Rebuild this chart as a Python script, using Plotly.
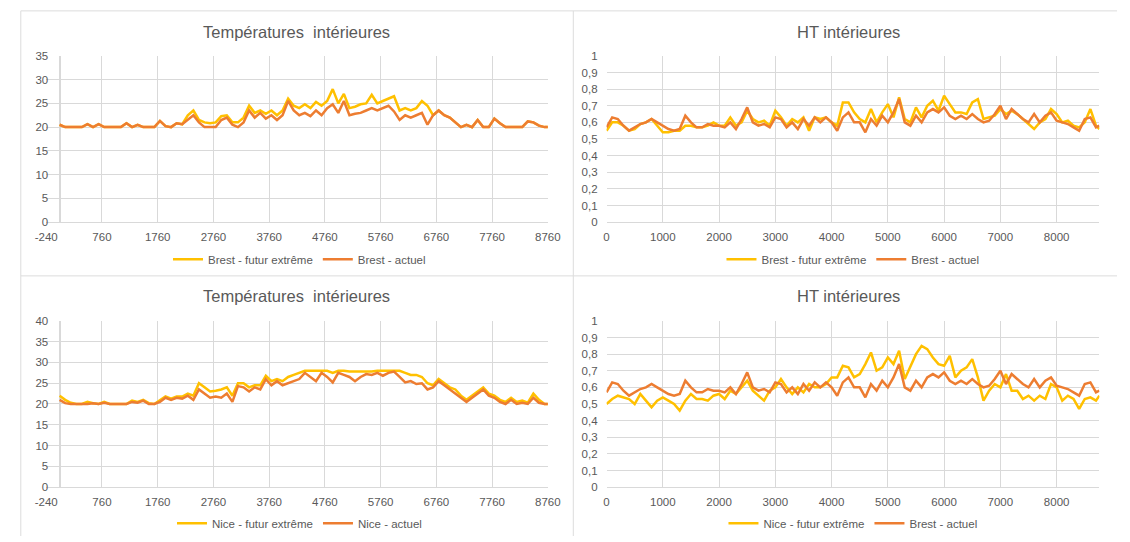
import plotly.graph_objects as go

# hourly positions (every 100 h, plus the last hour of the year)
hours = list(range(0, 8800, 100)) + [8760]

temp_brest_futur = [
    20.5, 20, 20, 20, 20, 20.6, 20, 20.6, 20, 20,
    20, 20, 20.8, 20, 20.5, 20, 20, 20, 21.3, 20.2,
    20, 20.8, 20.6, 22.5, 23.5, 21.5, 21, 20.8, 21, 22.3,
    22.5, 21, 21, 22, 24.5, 23, 23.5, 22.8, 23.5, 22.5,
    23.5, 26, 24.5, 24, 24.8, 24, 25.3, 24.5, 25.5, 28,
    25, 27, 24, 24.3, 24.8, 25, 26.8, 25, 25.5, 26,
    26.5, 23.5, 24, 23.5, 24, 25.5, 24.5, 22.5, 23.5, 22.5,
    22, 21, 20, 20.5, 20, 21.5, 20, 20, 21.8, 20.8,
    20, 20, 20, 20, 21.2, 21, 20.3, 20, 20,
]
temp_brest_actuel = [
    20.5, 20, 20, 20, 20, 20.6, 20, 20.6, 20, 20,
    20, 20, 20.8, 20, 20.5, 20, 20, 20, 21.3, 20.2,
    20, 20.8, 20.6, 21.5, 22.5, 21, 20, 20, 20, 21.5,
    22, 20.5, 20, 21, 23.5, 22, 23, 21.8, 22.5, 21.5,
    22.5, 25.5, 23.5, 22.5, 23, 22.3, 23.5, 22.5, 24, 24.8,
    23, 25.5, 22.5, 22.8, 23, 23.5, 24, 23.5, 24, 24.5,
    23.3, 21.5, 22.5, 22, 22.5, 23, 20.5, 22.5, 23.5, 22.5,
    22, 21, 20, 20.5, 20, 21.5, 20, 20, 21.8, 20.8,
    20, 20, 20, 20, 21.2, 21, 20.3, 20, 20,
]
ht_brest_futur = [
    0.55, 0.60, 0.60, 0.58, 0.55, 0.56, 0.59, 0.60, 0.62, 0.58,
    0.54, 0.54, 0.55, 0.55, 0.58, 0.58, 0.57, 0.57, 0.58, 0.60,
    0.58, 0.58, 0.63, 0.58, 0.60, 0.67, 0.62, 0.60, 0.61, 0.58,
    0.67, 0.63, 0.58, 0.62, 0.60, 0.63, 0.55, 0.63, 0.62, 0.63,
    0.60, 0.58, 0.72, 0.72, 0.66, 0.62, 0.60, 0.68, 0.60, 0.66,
    0.71, 0.63, 0.75, 0.62, 0.60, 0.69, 0.63, 0.70, 0.73, 0.67,
    0.76, 0.71, 0.66, 0.66, 0.65, 0.72, 0.74, 0.62, 0.63, 0.64,
    0.68, 0.65, 0.67, 0.65, 0.62, 0.59, 0.56, 0.60, 0.62, 0.68,
    0.65, 0.60, 0.61, 0.58, 0.57, 0.60, 0.68, 0.58, 0.56,
]
ht_brest_actuel = [
    0.57, 0.63, 0.62, 0.58, 0.55, 0.57, 0.59, 0.60, 0.62, 0.60,
    0.58, 0.56, 0.55, 0.56, 0.64, 0.60, 0.57, 0.57, 0.59, 0.58,
    0.58, 0.57, 0.60, 0.56, 0.62, 0.69, 0.60, 0.58, 0.59, 0.57,
    0.63, 0.62, 0.57, 0.60, 0.56, 0.62, 0.58, 0.63, 0.60, 0.63,
    0.60, 0.55, 0.63, 0.66, 0.60, 0.60, 0.54, 0.62, 0.58, 0.64,
    0.60, 0.66, 0.74, 0.60, 0.58, 0.64, 0.60, 0.66, 0.68, 0.66,
    0.69, 0.64, 0.62, 0.64, 0.62, 0.65, 0.62, 0.60, 0.61, 0.65,
    0.70, 0.62, 0.68, 0.65, 0.62, 0.60, 0.65, 0.60, 0.64, 0.66,
    0.61, 0.60, 0.59, 0.57, 0.55, 0.62, 0.63, 0.57, 0.58,
]
temp_nice_futur = [
    22, 21, 20.3, 20, 20, 20.5, 20.2, 20, 20.5, 20,
    20, 20, 20, 20.8, 20.5, 21, 20.2, 20, 20.8, 21.8,
    21.3, 21.8, 21.8, 22.5, 22, 25, 24, 23, 23.2, 23.5,
    24, 22, 25, 25, 24, 24.5, 24.5, 26.8, 25.5, 26,
    25.5, 26.5, 27, 27.5, 28, 28, 28, 28, 28, 27.5,
    28, 28, 27.8, 27.8, 27.8, 27.8, 27.8, 28, 28, 28,
    28, 28, 27.5, 27, 27, 26.5, 25, 24.5, 26, 25,
    24, 23.5, 22, 21, 22, 23, 24, 22.5, 22, 21,
    20.5, 21.5, 20.5, 20.8, 20.3, 22.5, 21, 20, 20,
]
temp_nice_actuel = [
    21, 20.2, 20, 20, 20, 20, 20.2, 20, 20.3, 20,
    20, 20, 20, 20.5, 20.3, 20.8, 20, 20, 20.5, 21.5,
    21, 21.5, 21.3, 22, 21, 23.5, 22.5, 21.5, 21.8, 21.5,
    22.5, 20.5, 24.3, 24, 23, 24, 23.5, 26, 24.5, 25.5,
    24.5, 25, 25.5, 26, 27.5, 26.5, 25.5, 27.5, 26.5, 25.2,
    27.5, 27, 26.5, 25.5, 26.5, 27.2, 27, 27.5, 26.8, 27.5,
    27.8, 26.5, 25.2, 25.5, 24.8, 25, 23.5, 24, 25.5, 24.5,
    23.5, 22.5, 21.5, 20.5, 21.5, 22.5, 23.5, 22, 21.5, 20.5,
    20, 21, 20, 20.3, 20, 21.5, 20.3, 20, 20,
]
ht_nice_futur = [
    0.50, 0.53, 0.55, 0.54, 0.53, 0.50, 0.56, 0.52, 0.48, 0.52,
    0.54, 0.52, 0.50, 0.46, 0.52, 0.56, 0.53, 0.53, 0.52, 0.55,
    0.56, 0.53, 0.58, 0.56, 0.60, 0.64, 0.58, 0.55, 0.52, 0.58,
    0.60, 0.65, 0.60, 0.56, 0.60, 0.57, 0.62, 0.60, 0.60, 0.62,
    0.66, 0.66, 0.73, 0.72, 0.66, 0.68, 0.74, 0.81, 0.70, 0.72,
    0.78, 0.74, 0.82, 0.65, 0.72, 0.80, 0.85, 0.83, 0.78, 0.74,
    0.73, 0.79, 0.66, 0.70, 0.72, 0.77, 0.66, 0.52, 0.58, 0.62,
    0.60, 0.68, 0.58, 0.58, 0.53, 0.55, 0.52, 0.55, 0.53, 0.62,
    0.60, 0.52, 0.55, 0.53, 0.47, 0.53, 0.54, 0.52, 0.55,
]

temp_ticks = list(range(-240, 8761, 1000))
temp_tick_labels = [str(v) for v in temp_ticks]  # plain hyphen for -240
ht_ticks = list(range(0, 8001, 1000))
ht_yvals = [i / 10 for i in range(11)]
ht_ylabels = ["0", "0,1", "0,2", "0,3", "0,4", "0,5", "0,6", "0,7", "0,8", "0,9", "1"]

YELLOW = "#FFC000"
ORANGE = "#ED7D31"
GRID = "#d9d9d9"
TEXT = "#595959"
FONT = "Liberation Sans, Arial, sans-serif"

W, H = 1130, 542


def fx(p):
    return p / W


def fy(p):
    return 1 - p / H


fig = go.Figure()

panels = [
    # (xaxis, yaxis, legend, y_a, name_a, y_b, name_b)
    ("x", "y", "legend", temp_brest_futur, "Brest - futur extrême", temp_brest_actuel, "Brest - actuel"),
    ("x2", "y2", "legend2", ht_brest_futur, "Brest - futur extrême", ht_brest_actuel, "Brest - actuel"),
    ("x3", "y3", "legend3", temp_nice_futur, "Nice - futur extrême", temp_nice_actuel, "Nice - actuel"),
    ("x4", "y4", "legend4", ht_nice_futur, "Nice - futur extrême", ht_brest_actuel, "Brest - actuel"),
]
for xa, ya, lg, y_a, n_a, y_b, n_b in panels:
    fig.add_trace(go.Scatter(x=hours, y=y_a, name=n_a, mode="lines",
                             line=dict(color=YELLOW, width=2.5),
                             xaxis=xa, yaxis=ya, legend=lg))
    fig.add_trace(go.Scatter(x=hours, y=y_b, name=n_b, mode="lines",
                             line=dict(color=ORANGE, width=2.5),
                             xaxis=xa, yaxis=ya, legend=lg))

tick_font = dict(family=FONT, size=11.5, color=TEXT)
xcommon = dict(showgrid=True, gridcolor=GRID, gridwidth=1, showline=True,
               linecolor=GRID, ticks="", tickfont=tick_font,
               ticklabelstandoff=4, fixedrange=True)
ycommon = dict(showgrid=True, gridcolor=GRID, gridwidth=1, zeroline=True,
               zerolinecolor=GRID, ticks="", tickfont=tick_font, fixedrange=True)

left_x = [fx(35), fx(548)]
right_x = [fx(608), fx(1112)]
top_y = [fy(221), fy(51)]
bot_y = [fy(492), fy(322)]

fig.update_layout(
    width=W, height=H,
    margin=dict(l=0, r=0, t=0, b=0),
    paper_bgcolor="white", plot_bgcolor="white",
    font=dict(family=FONT, color=TEXT),
    xaxis=dict(xcommon, domain=left_x, anchor="y", range=[-240, 8760],
               tickvals=temp_ticks, ticktext=temp_tick_labels,
               zeroline=True, zerolinecolor=GRID),
    yaxis=dict(ycommon, domain=top_y, anchor="x", range=[0, 35], dtick=5,
               ticklabelstandoff=-3),
    xaxis2=dict(xcommon, domain=right_x, anchor="y2", range=[0, 8760],
                tickvals=ht_ticks, zeroline=False),
    yaxis2=dict(ycommon, domain=top_y, anchor="x2", range=[0, 1],
                tickvals=ht_yvals, ticktext=ht_ylabels, ticklabelstandoff=8),
    xaxis3=dict(xcommon, domain=left_x, anchor="y3", range=[-240, 8760],
                tickvals=temp_ticks, ticktext=temp_tick_labels,
                zeroline=True, zerolinecolor=GRID),
    yaxis3=dict(ycommon, domain=bot_y, anchor="x3", range=[0, 40], dtick=5,
                ticklabelstandoff=-3),
    xaxis4=dict(xcommon, domain=right_x, anchor="y4", range=[0, 8760],
                tickvals=ht_ticks, zeroline=False),
    yaxis4=dict(ycommon, domain=bot_y, anchor="x4", range=[0, 1],
                tickvals=ht_yvals, ticktext=ht_ylabels, ticklabelstandoff=8),
)

legend_style = dict(orientation="h", xanchor="center", yanchor="middle",
                    font=dict(family=FONT, size=11.5, color=TEXT),
                    bgcolor="rgba(0,0,0,0)", itemwidth=30, tracegroupgap=0)
fig.update_layout(
    legend=dict(legend_style, x=fx(294), y=fy(259)),
    legend2=dict(legend_style, x=fx(860), y=fy(259)),
    legend3=dict(legend_style, x=fx(294), y=fy(529)),
    legend4=dict(legend_style, x=fx(860), y=fy(529)),
)

titles = [
    ("Températures  intérieures", 291, 27),
    ("HT intérieures", 855, 27),
    ("Températures  intérieures", 291, 297),
    ("HT intérieures", 855, 297),
]
for text, cx, cy in titles:
    fig.add_annotation(text=text, x=fx(cx), y=fy(cy), xref="paper", yref="paper",
                       xanchor="center", yanchor="middle", showarrow=False,
                       font=dict(family=FONT, size=16.5, color=TEXT))

# panel borders
border = dict(color="#dcdcdc", width=1)
for x0, y0, x1, y1 in [(9, 5, 1130, 5), (9, 276, 1130, 276),
                       (9, 5, 9, 542), (574, 5, 574, 542)]:
    fig.add_shape(type="line", xref="paper", yref="paper",
                  x0=fx(x0), y0=fy(y0), x1=fx(x1), y1=fy(y1), line=border)

# drop the page margin so the figure sits at the window origin
fig.write_html("out.html", config={"displayModeBar": False},
               post_script="document.body.style.margin='0';"
                           "document.body.style.overflow='hidden';")
